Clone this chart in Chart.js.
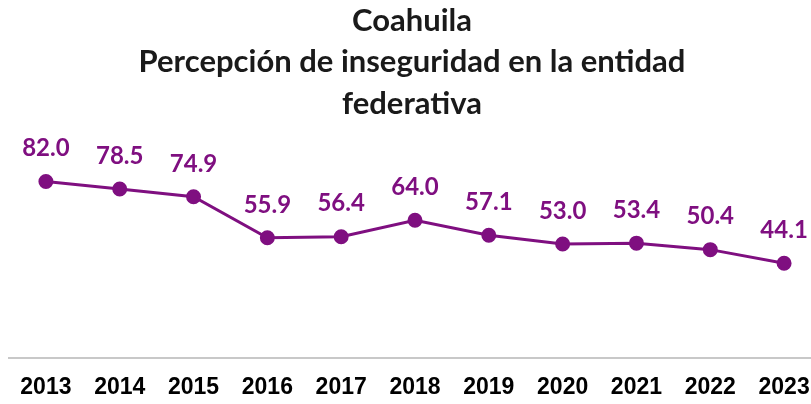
<!DOCTYPE html>
<html>
<head>
<meta charset="utf-8">
<script src="https://cdn.jsdelivr.net/npm/chart.js@4/dist/chart.umd.min.js"></script>
<style>
    html, body { margin: 0; padding: 0; background: #fff; overflow: hidden; }
    #wrap { width: 830px; height: 416px; }
</style>
</head>
<body>
<div id="wrap"><canvas id="chart"></canvas></div>
<script>
const years = ['2013', '2014', '2015', '2016', '2017', '2018', '2019', '2020', '2021', '2022', '2023'];
const percepcion = [82.0, 78.5, 74.9, 55.9, 56.4, 64.0, 57.1, 53.0, 53.4, 50.4, 44.1];
const titleLines = ['Coahuila', 'Percepción de inseguridad en la entidad', 'federativa'];

const purple = '#7f0f80';

// draws the value above each point
const valueLabels = {
    id: 'valueLabels',
    afterDatasetsDraw(chart) {
        const ctx = chart.ctx;
        const meta = chart.getDatasetMeta(0);
        ctx.save();
        ctx.font = 'bold 24px Lato';
        ctx.fillStyle = purple;
        ctx.textAlign = 'center';
        ctx.textBaseline = 'middle';
        meta.data.forEach((point, i) => {
            ctx.fillText(percepcion[i].toFixed(1), point.x, point.y - 33);
        });
        ctx.restore();
    }
};

new Chart(document.getElementById('chart'), {
    type: 'line',
    data: {
        labels: years,
        datasets: [{
            data: percepcion,
            borderColor: purple,
            backgroundColor: purple,
            borderWidth: 3,
            pointRadius: 6,
            pointBackgroundColor: purple,
            pointBorderColor: purple,
            tension: 0
        }]
    },
    options: {
        responsive: true,
        maintainAspectRatio: false,
        animation: false,
        layout: { padding: { left: 3, right: 9, top: 0, bottom: 0 } },
        plugins: {
            legend: { display: false },
            tooltip: { enabled: false },
            title: {
                display: true,
                text: titleLines,
                color: '#1a1a1a',
                font: { family: 'Lato', size: 31, weight: 'bold', lineHeight: 1.34 },
                padding: { top: 0, bottom: 18 }
            }
        },
        scales: {
            x: {
                offset: true,
                grid: { display: false, drawTicks: false },
                border: { display: true, color: '#c8c8c8', width: 2 },
                ticks: {
                    color: '#000',
                    padding: 15,
                    font: { family: 'Liberation Sans', size: 23, weight: 'bold', lineHeight: 1.2 }
                }
            },
            y: {
                display: false,
                min: 0,
                max: 100
            }
        }
    },
    plugins: [valueLabels]
});
</script>
</body>
</html>
